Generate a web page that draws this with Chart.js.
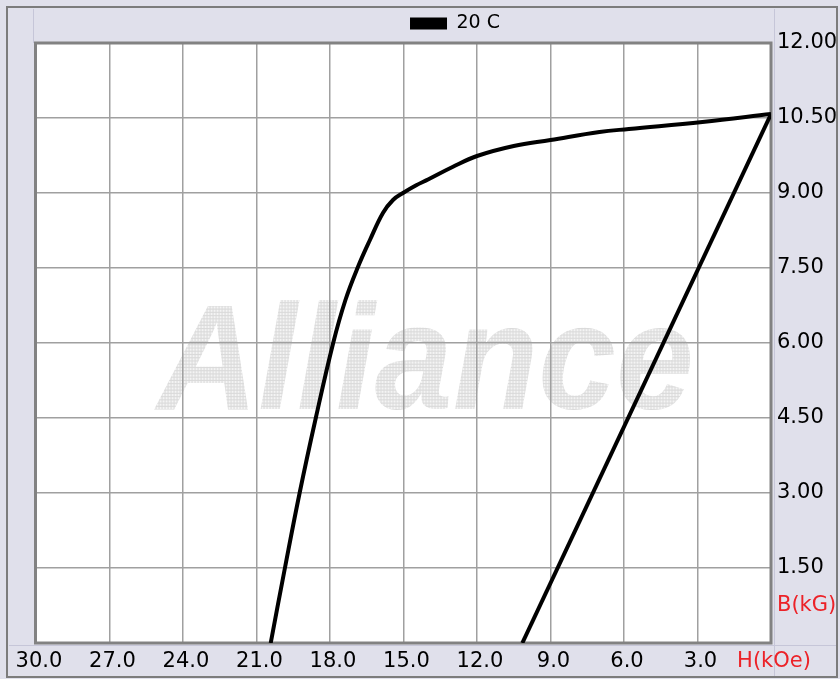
<!DOCTYPE html>
<html><head><meta charset="utf-8">
<script src="https://cdn.jsdelivr.net/npm/chart.js@4/dist/chart.umd.min.js"></script>
<style>html,body{margin:0;padding:0;background:#e0e0eb;overflow:hidden}#wrap{width:840px;height:679px}</style>
</head><body><div id="wrap"><canvas id="c" width="840" height="679"></canvas></div>
<script>
// ---- data ----
const seriesName = '20 C';
const curveH = [20.42, 19.84, 19.24, 18.58, 17.87, 17.37, 16.86, 16.37, 15.84, 15.43, 15.02, 14.5, 14.0, 13.0, 12.0, 10.5, 9.0, 7.0, 5.8, 2.8, 0];
const curveB = [0, 1.5, 3.0, 4.5, 6.0, 6.86, 7.52, 8.06, 8.6, 8.86, 9.0, 9.15, 9.27, 9.52, 9.74, 9.94, 10.06, 10.22, 10.28, 10.42, 10.58];
const lineH = [0, 10.15];
const lineB = [10.58, 0];
const xRange = [0, 30, 3];      // min, max, step (kOe)
const yRange = [0, 12, 1.5];    // min, max, step (kG)
const xUnitLabel = 'H(kOe)';
const yUnitLabel = 'B(kG)';
const watermark = 'Alliance';

const RED = 'rgb(236,34,40)';
const FONT = '"DejaVu Sans", "Liberation Sans", sans-serif';

const toPts = (xs, ys) => xs.map((x, i) => ({x, y: ys[i]}));

const decor = {
  id: 'decor',
  afterLayout(chart) {
    chart.legend.left += 17; chart.legend.right += 17;
  },
  beforeDraw(chart) {
    const {ctx, chartArea: a} = chart;
    ctx.save();
    ctx.fillStyle = 'rgb(224,224,235)';
    ctx.fillRect(0, 0, chart.width, chart.height);
    ctx.strokeStyle = '#c6c6d8'; ctx.lineWidth = 1;
    const ln = (x1, y1, x2, y2) => { ctx.beginPath(); ctx.moveTo(x1, y1); ctx.lineTo(x2, y2); ctx.stroke(); };
    ln(33.5, 9, 33.5, a.top);
    ln(774.5, 9, 774.5, 677);
    ln(9, 645.5, 837, 645.5);
    ctx.strokeStyle = '#7c7c7c'; ctx.lineWidth = 2;
    ctx.strokeRect(7, 7, 830, 670);
    ctx.fillStyle = '#fff';
    ctx.fillRect(a.left, a.top, a.width, a.height);
    const p = document.createElement('canvas'); p.width = 3; p.height = 3;
    const pc = p.getContext('2d');
    pc.fillStyle = '#f4f4f4'; pc.fillRect(0, 0, 3, 3);
    pc.fillStyle = '#dadada'; pc.fillRect(0, 0, 3, 1); pc.fillRect(0, 0, 1, 3);
    ctx.fillStyle = ctx.createPattern(p, 'repeat');
    ctx.font = 'italic bold 140px "Liberation Sans", Arial, sans-serif';
    ctx.textAlign = 'center'; ctx.textBaseline = 'alphabetic';
    ctx.translate((a.left + a.right) / 2 + 22, 409);
    ctx.scale(1, 1.08);
    ctx.fillText(watermark, 0, 0);
    ctx.restore();
  },
  beforeDatasetsDraw(chart) {
    const {ctx, chartArea: a} = chart;
    ctx.save();
    ctx.strokeStyle = '#828282'; ctx.lineWidth = 3;
    ctx.strokeRect(a.left - 0.5, a.top, a.width + 0.5, a.height);
    ctx.restore();
  }
};

new Chart(document.getElementById('c'), {
  type: 'scatter',
  data: {
    datasets: [
      {label: seriesName, data: toPts(curveH, curveB), showLine: true, borderColor: '#000', backgroundColor: '#000',
       borderWidth: 4, pointRadius: 0, tension: 0.4, fill: false},
      {label: seriesName, data: toPts(lineH, lineB), showLine: true, borderColor: '#000', backgroundColor: '#000',
       borderWidth: 4, pointRadius: 0, tension: 0, fill: false}
    ]
  },
  options: {
    responsive: false, devicePixelRatio: 1, animation: false,
    layout: {padding: {top: 5, left: 36, right: 0, bottom: 0}},
    plugins: {
      legend: {
        display: true, position: 'top',
        labels: {
          boxWidth: 37, boxHeight: 12, padding: 9, color: '#000',
          font: {family: FONT, size: 19},
          generateLabels: () => [{text: seriesName, fillStyle: '#000', strokeStyle: '#000', lineWidth: 0, datasetIndex: 0, hidden: false}]
        },
        onClick: () => {}
      },
      tooltip: {enabled: false}
    },
    scales: {
      x: {
        type: 'linear', position: 'bottom', reverse: true,
        min: xRange[0], max: xRange[1],
        afterFit: (s) => { s.height = 36; s.paddingLeft = 0; s.paddingRight = 0; },
        ticks: {
          stepSize: xRange[2], maxRotation: 0, autoSkip: false, padding: 6, labelOffset: 3,
          font: {family: FONT, size: 21},
          color: (c) => c.tick && c.tick.value === 0 ? RED : '#000',
          callback: (v) => v === 0 ? xUnitLabel : Number(v).toFixed(1)
        },
        grid: {color: '#a0a0a0', lineWidth: 1.5, drawTicks: false},
        border: {display: false}
      },
      y: {
        type: 'linear', position: 'right',
        min: yRange[0], max: yRange[1],
        afterFit: (s) => { s.width = 69; s.paddingTop = 0; s.paddingBottom = 0; },
        ticks: {
          stepSize: yRange[2], autoSkip: false, padding: 6,
          font: {family: FONT, size: 21},
          color: (c) => c.tick && c.tick.value === 0 ? RED : '#000',
          callback: (v) => v === 0 ? [yUnitLabel, '', '', ''] : Number(v).toFixed(2)
        },
        grid: {color: '#a0a0a0', lineWidth: 1.5, drawTicks: false},
        border: {display: false}
      }
    }
  },
  plugins: [decor]
});
</script>
</body></html>
